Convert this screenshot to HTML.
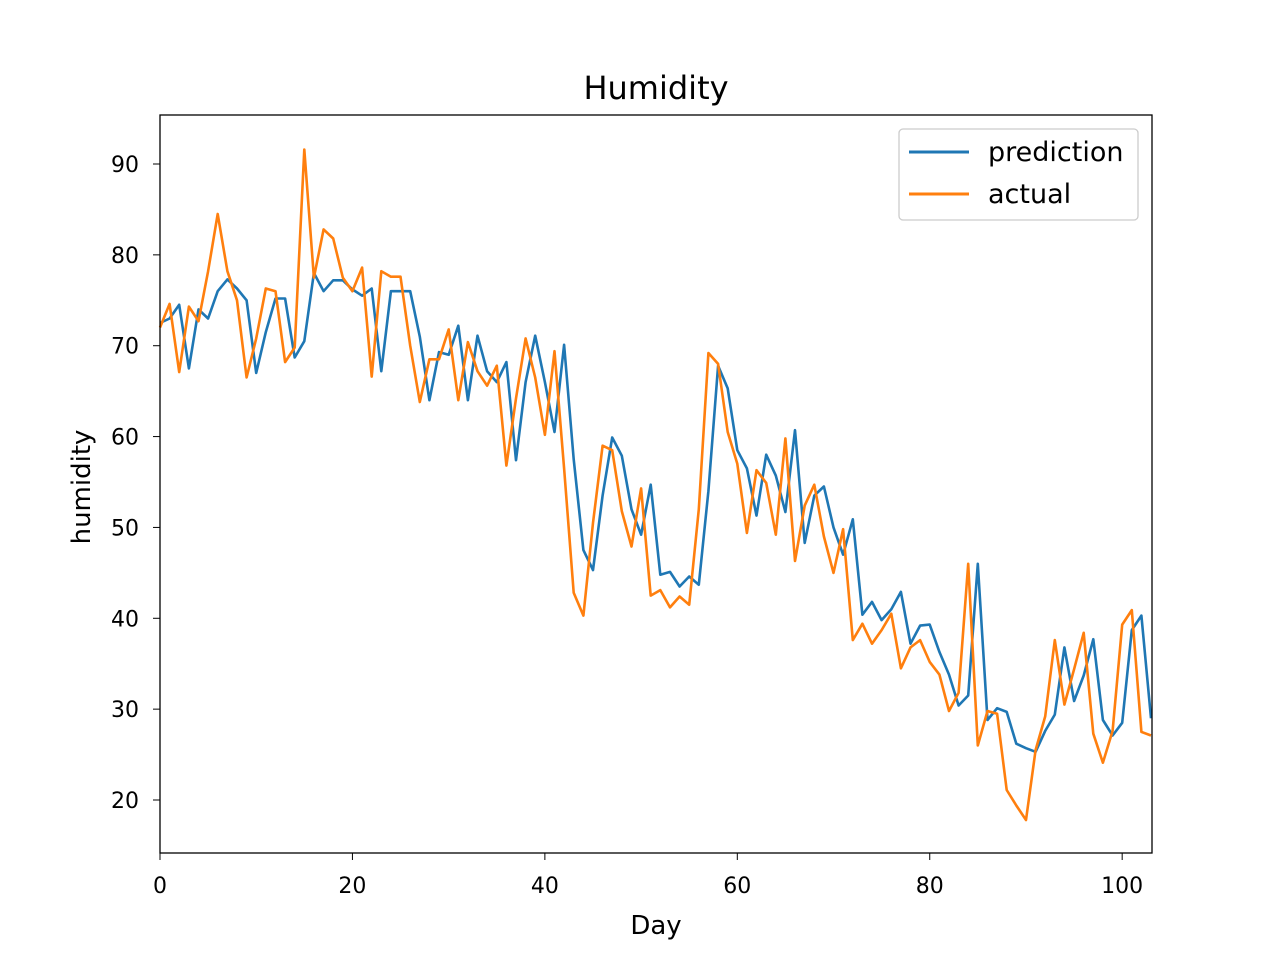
<!DOCTYPE html>
<html><head><meta charset="utf-8"><style>
html,body{margin:0;padding:0;background:#fff;}
svg{display:block;font-family:"DejaVu Sans","Liberation Sans",sans-serif;}
</style></head><body>
<svg id="chart" width="1280" height="960">
<rect width="1280" height="960" fill="#fff"/>
<text x="656" y="99" font-size="32" text-anchor="middle">Humidity</text>
<g id="series"></g>
<g id="axes"></g>
<rect x="160" y="115" width="992" height="738" fill="none" stroke="#000" stroke-width="1.3"/>
<text x="656" y="934" font-size="26" text-anchor="middle">Day</text>
<text transform="translate(90,487) rotate(-90)" font-size="26" text-anchor="middle">humidity</text>
<g>
<rect x="899" y="129" width="239" height="91" rx="4" fill="#fff" stroke="#ccc" stroke-width="1.3"/>
<line x1="909" y1="152" x2="969" y2="152" stroke="#1f77b4" stroke-width="3"/>
<text x="988" y="161" font-size="27">prediction</text>
<line x1="909" y1="194" x2="969" y2="194" stroke="#ff7f0e" stroke-width="3"/>
<text x="988" y="203" font-size="27">actual</text>
</g>
</svg>
<script>
const prediction=[72.5,73,74.5,67.5,74,73,76,77.3,76.3,75,67,71.5,75.2,75.2,68.7,70.5,78,76,77.2,77.2,76.2,75.5,76.3,67.2,76,76,76,71,64,69.3,69,72.2,64,71.1,67.2,66,68.2,57.4,66,71.1,66,60.5,70.1,57.5,47.5,45.3,53.5,59.9,57.9,52,49.2,54.7,44.8,45.1,43.5,44.6,43.7,54,67.8,65.3,58.5,56.5,51.3,58,55.7,51.7,60.7,48.3,53.5,54.5,50,47,50.9,40.4,41.8,39.8,41,42.9,37.2,39.2,39.3,36.3,33.8,30.4,31.5,46,28.8,30.1,29.7,26.2,25.7,25.3,27.6,29.4,36.8,30.9,33.7,37.7,28.8,27.1,28.5,38.7,40.3,29];
const actual=[72,74.6,67.1,74.3,72.7,78.2,84.5,78.2,75,66.5,70.8,76.3,76,68.2,69.8,91.6,77.5,82.8,81.8,77.5,76,78.6,66.6,78.2,77.6,77.6,70,63.8,68.5,68.5,71.8,64,70.4,67.2,65.6,67.8,56.8,64.2,70.8,66.5,60.2,69.4,56.5,42.8,40.3,50.5,59,58.5,51.8,47.9,54.3,42.5,43.1,41.2,42.4,41.5,52,69.2,68,60.5,57,49.4,56.3,54.9,49.2,59.8,46.3,52.4,54.7,49,45,49.8,37.6,39.4,37.2,38.7,40.5,34.5,36.8,37.6,35.2,33.8,29.8,31.8,46,26,29.8,29.5,21.1,19.4,17.8,25.5,29.2,37.6,30.5,34.4,38.4,27.3,24.1,27.6,39.3,40.9,27.5,27.1];
const xTicks=[0,20,40,60,80,100];
const yTicks=[20,30,40,50,60,70,80,90];
const NS="http://www.w3.org/2000/svg";
function X(v){return 160+v*(992/103.1);}
function Y(v){return 800-(v-20)*(636/70);}
const sg=document.getElementById('series');
function draw(arr,color,name){
  const p=document.createElementNS(NS,'polyline');
  p.setAttribute('points',arr.map((v,i)=>X(i).toFixed(1)+','+Y(v).toFixed(1)).join(' '));
  p.setAttribute('fill','none');p.setAttribute('stroke',color);p.setAttribute('stroke-width','2.6');
  p.setAttribute('stroke-linejoin','round');
  
  
  sg.appendChild(p);
}
draw(prediction,'#1f77b4','prediction-line');
draw(actual,'#ff7f0e','actual-line');
const ax=document.getElementById('axes');
xTicks.forEach(t=>{
  const l=document.createElementNS(NS,'line');
  l.setAttribute('x1',X(t));l.setAttribute('x2',X(t));l.setAttribute('y1',853);l.setAttribute('y2',860);l.setAttribute('stroke','#000');
  
  
  ax.appendChild(l);
  const tx=document.createElementNS(NS,'text');
  tx.setAttribute('x',X(t));tx.setAttribute('y',893);tx.setAttribute('font-size','22');tx.setAttribute('text-anchor','middle');
  tx.textContent=t;
  
  
  ax.appendChild(tx);
});
yTicks.forEach(t=>{
  const l=document.createElementNS(NS,'line');
  l.setAttribute('x1',153);l.setAttribute('x2',160);l.setAttribute('y1',Y(t));l.setAttribute('y2',Y(t));l.setAttribute('stroke','#000');
  
  
  ax.appendChild(l);
  const tx=document.createElementNS(NS,'text');
  tx.setAttribute('x',139);tx.setAttribute('y',Y(t)+8);tx.setAttribute('font-size','22');tx.setAttribute('text-anchor','end');
  tx.textContent=t;
  
  
  ax.appendChild(tx);
});
</script>
</body></html>
